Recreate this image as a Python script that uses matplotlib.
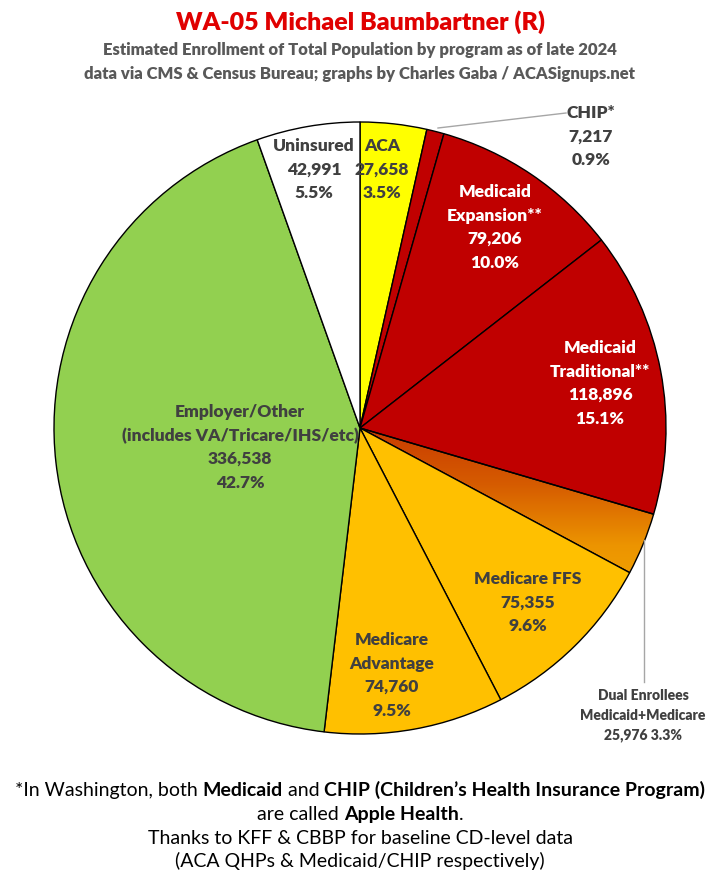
import numpy as np
import matplotlib.pyplot as plt
from matplotlib.colors import LinearSegmentedColormap

plt.rcParams['font.family'] = ['Lato', 'DejaVu Sans']

# data, clockwise from 12 o'clock
programs = ["ACA", "CHIP*", "Medicaid\nExpansion**", "Medicaid\nTraditional**",
            "Dual Enrollees\nMedicaid+Medicare", "Medicare FFS", "Medicare\nAdvantage",
            "Employer/Other\n(includes VA/Tricare/IHS/etc)", "Uninsured"]
enrollment = [27658, 7217, 79206, 118896, 25976, 75355, 74760, 336538, 42991]
shares = ["3.5%", "0.9%", "10.0%", "15.1%", "3.3%", "9.6%", "9.5%", "42.7%", "5.5%"]
colors = ["#FFFF00", "#C00000", "#C00000", "#C00000", "#E07000", "#FFC000",
          "#FFC000", "#92D050", "#FFFFFF"]

W, H = 720, 880
fig = plt.figure(figsize=(W / 100, H / 100), dpi=100)
ax = fig.add_axes([0, 0, 1, 1])

cx, cy, r = 360, H - 428, 306
wedges, _ = ax.pie(enrollment, colors=colors, startangle=90, counterclock=False,
                   center=(cx, cy), radius=r,
                   wedgeprops=dict(edgecolor="black", linewidth=1.0))
ax.set_aspect("auto")
ax.set_axis_off()

# gradient fill for the dual enrollees slice
dual = wedges[4]
grad = np.linspace(0, 1, 256).reshape(-1, 1)
cmap = LinearSegmentedColormap.from_list("dual", ["#F4A800", "#EC9400", "#D65C00", "#C83A00"])
im = ax.imshow(grad, cmap=cmap, origin="lower", aspect="auto",
               extent=(cx - 2, cx + r + 2, cy - 0.58 * r, cy + 2),
               zorder=dual.get_zorder() - 0.1)
im.set_clip_path(dual)
dual.set_facecolor("none")
ax.set_xlim(0, W)
ax.set_ylim(0, H)

dark = "#404040"
fmt = [f"{v:,}" for v in enrollment]
WT = "heavy"


def label(x, y, lines, color=dark, size=12.5, gap=23.5):
    for i, s in enumerate(lines):
        ax.text(x, H - (y + i * gap), s, ha="center", va="center", color=color,
                fontsize=size, fontweight=WT)


label(382, 146, ["ACA", fmt[0], shares[0]])
label(591, 113, ["CHIP*", fmt[1], shares[1]])
label(495, 192, ["Medicaid", "Expansion**", fmt[2], shares[2]], color="white")
label(600, 348, ["Medicaid", "Traditional**", fmt[3], shares[3]], color="white")
label(528, 579, ["Medicare FFS", fmt[5], shares[5]])
label(392, 640, ["Medicare", "Advantage", fmt[6], shares[6]])
label(240, 412, ["Employer/Other", "(includes VA/Tricare/IHS/etc)", fmt[7], shares[7]])
label(314, 146, ["Uninsured", fmt[8], shares[8]])
label(643, 695, ["Dual Enrollees", "Medicaid+Medicare", f"{fmt[4]} {shares[4]}"],
      size=10, gap=20)

# leader lines
ax.plot([438, 566], [H - 128, H - 113], color="#A6A6A6", lw=1)
ax.plot([644, 644], [H - 540, H - 682], color="#A6A6A6", lw=1)

# titles
fig.text(0.5, 1 - 22 / H, "WA-05 Michael Baumbartner (R)", ha="center", va="center",
         color="#E00000", fontsize=18, fontweight=WT)
fig.text(0.5, 1 - 50 / H, "Estimated Enrollment of Total Population by program as of late 2024",
         ha="center", va="center", color="#595959", fontsize=12, fontweight=WT)
fig.text(0.5, 1 - 74 / H, "data via CMS & Census Bureau; graphs by Charles Gaba / ACASignups.net",
         ha="center", va="center", color="#595959", fontsize=12, fontweight=WT)

# footer with mixed weights
renderer = fig.canvas.get_renderer()


def rich_line(y, parts, size=14):
    items = []
    for s, bold in parts:
        t = fig.text(0, 1 - y / H, s, va="center", ha="left", fontsize=size,
                     fontweight="bold" if bold else "normal", color="black")
        items.append(t)
    widths = [t.get_window_extent(renderer).width for t in items]
    x = (W - sum(widths)) / 2
    for t, w in zip(items, widths):
        t.set_x(x / W)
        x += w


rich_line(790, [("*In Washington, both ", False), ("Medicaid", True), (" and ", False),
                ("CHIP (Children\u2019s Health Insurance Program)", True)])
rich_line(814, [("are called ", False), ("Apple Health", True), (".", False)])
rich_line(838, [("Thanks to KFF & CBBP for baseline CD-level data", False)])
rich_line(861, [("(ACA QHPs & Medicaid/CHIP respectively)", False)])

fig.savefig("out.png", dpi=100)
